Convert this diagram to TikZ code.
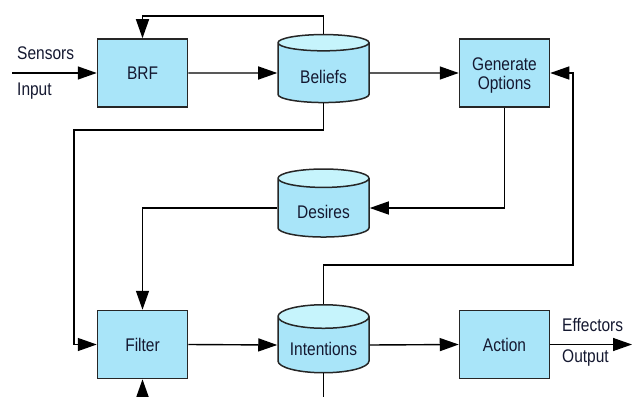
\documentclass[tikz,border=0pt]{standalone}
\usepackage{fontspec}
\setmainfont{Liberation Sans}
\usetikzlibrary{arrows.meta,shapes.geometric}
\definecolor{boxfill}{HTML}{A9E5F9}
\definecolor{topfill}{HTML}{C6F4FC}
\definecolor{txtcol}{HTML}{141830}
\newcommand\tx[1]{\scalebox{1}[1.18]{#1}}
\newcommand\ctx[1]{\raisebox{-4pt}[\height][\depth]{\scalebox{1}[1.18]{#1}}}
\tikzset{
  proc/.style={draw=black!85, line width=1.5pt, fill=boxfill, minimum width=90pt, minimum height=68pt, inner sep=0pt, text=txtcol, font=\fontsize{15.5}{18}\selectfont},
  store/.style={cylinder, shape border rotate=90, aspect=0.35, draw=black!85, line width=1.5pt,
    cylinder uses custom fill, cylinder body fill=boxfill, cylinder end fill=topfill,
    minimum width=91pt, minimum height=68pt, inner sep=0pt, text=txtcol, font=\fontsize{15.5}{18}\selectfont},
  lbl/.style={anchor=west, inner sep=0pt, text=txtcol, font=\fontsize{15.5}{18}\selectfont},
  arr/.style={line width=1.4pt, -{Triangle[length=19pt,width=13pt]}},
  ln/.style={line width=1.4pt}
}
\begin{document}
\begin{tikzpicture}[x=1pt,y=-1pt]
\useasboundingbox (0,0) rectangle (634,396);
% nodes
\node[proc] (brf) at (142.5,73) {\tx{BRF}};
\node[store] (bel) at (323.5,73) {\ctx{Beliefs}};
\node[proc] (gen) at (504.5,73) {\raisebox{-2.5pt}[\height][\depth]{\tx{\begin{tabular}{@{}c@{}}Generate\\[-2pt]Options\end{tabular}}}};
\node[store] (des) at (323.5,208) {\ctx{Desires}};
\node[proc] (fil) at (142.5,344.5) {\tx{Filter}};
\node[store] (int) at (323.5,345) {\ctx{Intentions}};
\node[proc] (act) at (504.5,344.5) {\tx{Action}};
% labels
\node[lbl] (sens) at (17,53) {\tx{Sensors}};
\node[lbl] (inp) at (17,91) {\tx{Input}};
\node[lbl] (eff) at (562,325) {\tx{Effectors}};
\node[lbl] (outl) at (562,358) {\tx{Output}};
% helper coordinates
\coordinate (in) at (12,73);
\coordinate (out) at (632,344.5);
\coordinate (top) at (0,16);
\coordinate (c1) at (74,130);
\coordinate (c2) at (573,265);
\coordinate (b1) at (142.5,400);
\coordinate (b2) at (323.5,400);
% connectors
\draw[arr] (in) -- (brf.west);
\draw[arr] (brf.east) -- (bel.west);
\draw[arr] (bel.north) -- (bel.north |- top) -| (brf.north);
\draw[arr] (bel.east) -- (gen.west);
\draw[arr] (bel.south) |- (c1) |- (fil.west);
\draw[arr] (gen.south) |- (des.east);
\draw[arr] (des.west) -| (fil.north);
\draw[arr] (fil.east) -- (int.west);
\draw[arr] (int.north) |- (c2) |- (gen.east);
\draw[arr] (int.east) -- (act.west);
\draw[arr] (act.east) -- (out);
\draw[arr] (b1) -- (fil.south);
\draw[ln] (int.south) -- (b2);
\end{tikzpicture}
\end{document}
